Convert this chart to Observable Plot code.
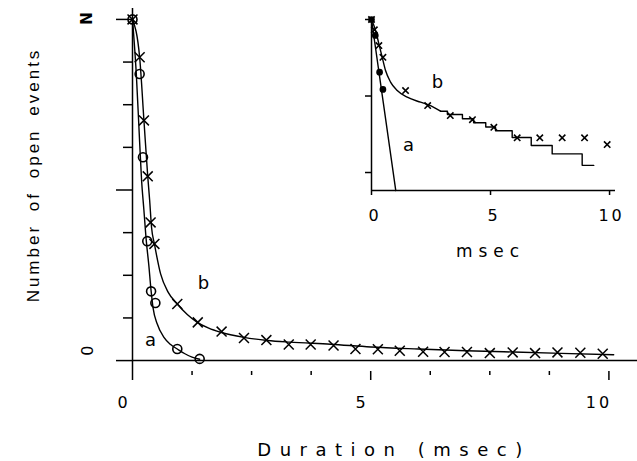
<!DOCTYPE html>
<html><head><meta charset="utf-8">
<script src="https://cdn.jsdelivr.net/npm/d3@7"></script>
<script src="https://cdn.jsdelivr.net/npm/@observablehq/plot@0.6"></script>
<style>
html,body{margin:0;padding:0;background:#fff;}
#wrap{position:relative;width:637px;height:461px;overflow:hidden;}
#wrap svg{position:absolute;left:0;top:0;}
</style></head><body><div id="wrap"></div>
<script>
// ---------- Main panel data (fraction of N vs duration in msec) ----------
const markA_t = [0, 0.15, 0.22, 0.31, 0.39, 0.48, 0.94, 1.41];
const markA_f = [1.0, 0.84, 0.596, 0.35, 0.203, 0.169, 0.034, 0.005];
const markB_t = [0, 0.15, 0.24, 0.32, 0.38, 0.46, 0.94, 1.37, 1.87, 2.34, 2.81, 3.28, 3.74, 4.22, 4.68, 5.15, 5.61, 6.10, 6.55, 7.02, 7.50, 7.98, 8.45, 8.92, 9.40, 9.87];
const markB_f = [1.0, 0.889, 0.704, 0.54, 0.405, 0.342, 0.166, 0.112, 0.085, 0.066, 0.060, 0.047, 0.047, 0.044, 0.034, 0.033, 0.029, 0.026, 0.025, 0.025, 0.022, 0.024, 0.022, 0.024, 0.023, 0.020];
const curveA_t = [0, 0.08, 0.15, 0.19, 0.24, 0.29, 0.34, 0.39, 0.43, 0.52, 0.66, 0.80, 0.94, 1.10, 1.25, 1.41];
const curveA_f = [1, 0.84, 0.64, 0.53, 0.44, 0.35, 0.283, 0.205, 0.156, 0.107, 0.068, 0.047, 0.034, 0.020, 0.010, 0.004];
const curveB_t = [0, 0.15, 0.24, 0.32, 0.36, 0.40, 0.46, 0.59, 0.75, 0.94, 1.15, 1.36, 1.6, 1.85, 2.34, 2.83, 3.3, 4.16, 5, 6, 7, 8, 9, 10.1];
const curveB_f = [1, 0.889, 0.704, 0.54, 0.47, 0.39, 0.342, 0.254, 0.20, 0.166, 0.135, 0.112, 0.095, 0.083, 0.068, 0.059, 0.054, 0.048, 0.040, 0.034, 0.029, 0.025, 0.021, 0.017];
const curveNames = ["a", "b"];
const curveNameT = [0.38, 1.49];
const curveNameF = [0.0586, 0.2257];
const xMajorTicks = [0, 5, 10];
const xMinorTicks = [1.25, 2.5, 3.75, 6.25, 7.5, 8.75];
const xTickLabels = ["0", "5", "10"];
const yMajorTicks = [0, 0.5, 1];
const yMinorTicks = [0.125, 0.25, 0.375, 0.625, 0.75, 0.875];
const yTickValues = [1, 0];
const yTickLabels = ["N", "0"];
const xTitle = "Duration (msec)";
const yTitle = "Number of open events";

// ---------- Inset data (log fraction of N vs msec) ----------
const inDotA_t = [0, 0.16, 0.34, 0.48];
const inDotA_f = [1, 0.62, 0.205, 0.122];
const inCrossB_t = [0, 0.12, 0.31, 0.48, 1.43, 2.36, 3.31, 4.24, 5.14, 6.12, 7.07, 8.01, 8.95, 9.90];
const inCrossB_f = [1, 0.733, 0.457, 0.32, 0.118, 0.075, 0.0556, 0.049, 0.039, 0.0284, 0.0284, 0.0284, 0.0284, 0.0232];
const inCurveA_t = [0, 0.5, 1.02];
const inCurveA_f = [1, 0.080, 0.0058];
const inCurveB_t = [0, 0.17, 0.31, 0.45, 0.59, 0.80, 1.08, 1.50, 2.06, 2.48, 2.90];
const inCurveB_f = [1, 0.72, 0.48, 0.32, 0.215, 0.152, 0.118, 0.0966, 0.083, 0.075, 0.0633];
const inStepB_t = [2.90, 3.19, 3.82, 4.29, 4.80, 5.21, 5.91, 6.71, 7.59, 8.85, 9.34];
const inStepB_f = [0.0633, 0.0573, 0.0504, 0.0447, 0.0394, 0.0351, 0.0287, 0.0225, 0.0175, 0.0124, 0.0124];
const inNameT = [1.55, 2.77];
const inNameF = [0.0225, 0.150];
const inXTicks = [0, 5, 10];
const inXTickLabels = ["0", "5", "10"];
const inYTicks = [1, 0.1, 0.01];
const inYMin = 0.00582;
const inXTitle = "msec";

const zip = (t, f) => t.map((v, i) => ({t: v, f: f[i]}));
const plotterFont = "DejaVu Sans";

const main = Plot.plot({
  width: 637, height: 461,
  marginLeft: 132, marginRight: 0, marginTop: 8, marginBottom: 90,
  x: {domain: [0, 10.6]},
  y: {domain: [-0.032, 1.032]},
  style: {background: "transparent", color: "black", fontFamily: plotterFont, overflow: "visible"},
  marks: [
    Plot.ruleX([0], {stroke: "black", strokeWidth: 1.5}),
    Plot.ruleY([0], {stroke: "black", strokeWidth: 1.5}),
    Plot.axisY({ticks: yMajorTicks, tickSize: 16, tickFormat: () => "", label: null, strokeWidth: 1.5}),
    Plot.axisY({ticks: yMinorTicks, tickSize: 9, tickFormat: () => "", label: null, strokeWidth: 1.5}),
    Plot.axisX({ticks: xMajorTicks, tickSize: 9, tickFormat: () => "", label: null, strokeWidth: 1.5}),
    Plot.axisX({ticks: xMinorTicks, tickSize: 4, tickFormat: () => "", label: null, strokeWidth: 1.5}),
    Plot.text(xMajorTicks, {x: (d) => d, frameAnchor: "bottom", lineAnchor: "middle", textAnchor: "middle",
      text: (d, i) => xTickLabels[i], dx: -10, dy: 31, fontSize: 16}),
    Plot.text([yTickValues[0]], {x: 0, y: (d) => d, text: () => yTickLabels[0], rotate: -90, dx: -45, dy: -1, fontSize: 15, fontWeight: "bold"}),
    Plot.text([yTickValues[1]], {x: 0, y: (d) => d, text: () => yTickLabels[1], rotate: -90, dx: -45, dy: -10, fontSize: 16}),
    Plot.line(zip(curveA_t, curveA_f), {x: "t", y: "f", curve: "monotone-x", stroke: "black", strokeWidth: 1.4}),
    Plot.line(zip(curveB_t, curveB_f), {x: "t", y: "f", curve: "monotone-x", stroke: "black", strokeWidth: 1.4}),
    Plot.dot(zip(markA_t, markA_f), {x: "t", y: "f", symbol: "circle", r: 4.5, stroke: "black", fill: "none", strokeWidth: 1.6}),
    Plot.dot(zip(markB_t, markB_f), {x: "t", y: "f", symbol: "times", r: 4.6, stroke: "black", strokeWidth: 1.5}),
    Plot.text(curveNames, {x: (d, i) => curveNameT[i], y: (d, i) => curveNameF[i], text: (d) => d, fontSize: 18}),
    Plot.text([xTitle], {frameAnchor: "bottom", lineAnchor: "middle", textAnchor: "middle", dx: 9, dy: 79, fontSize: 18}),
    Plot.text([yTitle], {frameAnchor: "left", textAnchor: "middle", lineAnchor: "middle", rotate: -90,
      dx: -99, dy: -15, fontSize: 17, fontFamily: "Liberation Sans"})
  ]
});

const inset = Plot.plot({
  width: 637, height: 461,
  marginLeft: 371, marginRight: 22, marginTop: 19, marginBottom: 271,
  x: {domain: [0, 10.25]},
  y: {type: "log", domain: [inYMin, 1]},
  style: {background: "transparent", color: "black", fontFamily: plotterFont, overflow: "visible"},
  marks: [
    Plot.ruleX([0], {stroke: "black", strokeWidth: 1.5}),
    Plot.ruleY([inYMin], {stroke: "black", strokeWidth: 1.5}),
    Plot.axisY({ticks: inYTicks, tickSize: 6, tickFormat: () => "", label: null, strokeWidth: 1.5}),
    Plot.axisX({ticks: inXTicks, tickSize: 5, tickFormat: () => "", label: null, strokeWidth: 1.5}),
    Plot.text(inXTicks, {x: (d) => d, frameAnchor: "bottom", lineAnchor: "middle", textAnchor: "middle",
      text: (d, i) => inXTickLabels[i], dx: 2, dy: 25, fontSize: 16}),
    Plot.line(zip(inCurveA_t, inCurveA_f), {x: "t", y: "f", stroke: "black", strokeWidth: 1.4}),
    Plot.line(zip(inCurveB_t, inCurveB_f), {x: "t", y: "f", curve: "monotone-x", stroke: "black", strokeWidth: 1.4}),
    Plot.line(zip(inStepB_t, inStepB_f), {x: "t", y: "f", curve: "step-after", stroke: "black", strokeWidth: 1.4}),
    Plot.dot(zip(inDotA_t, inDotA_f), {x: "t", y: "f", r: 2.6, fill: "black", stroke: "black"}),
    Plot.dot(zip(inCrossB_t, inCrossB_f), {x: "t", y: "f", symbol: "times", r: 3, stroke: "black", strokeWidth: 1.6}),
    Plot.text(curveNames, {x: (d, i) => inNameT[i], y: (d, i) => inNameF[i], text: (d) => d, fontSize: 18}),
    Plot.text([inXTitle], {frameAnchor: "bottom", lineAnchor: "middle", textAnchor: "middle", dx: -3, dy: 61, fontSize: 17})
  ]
});

// plotter-style letter spacing, applied to the rendered text by content
function spaceText(svg, strings, ls, ws) {
  d3.select(svg).selectAll("text").filter(function () { return strings.includes(this.textContent); })
    .style("letter-spacing", ls).style("word-spacing", ws || null);
}
spaceText(main, [xTitle], "8.5px");
spaceText(main, ["10"], "3px");
spaceText(main, [yTitle], "3px", "5px");
spaceText(inset, ["10"], "3px");
spaceText(inset, [inXTitle], "6px");

const wrap = document.getElementById("wrap");
wrap.appendChild(main);
wrap.appendChild(inset);
</script>
</body></html>
